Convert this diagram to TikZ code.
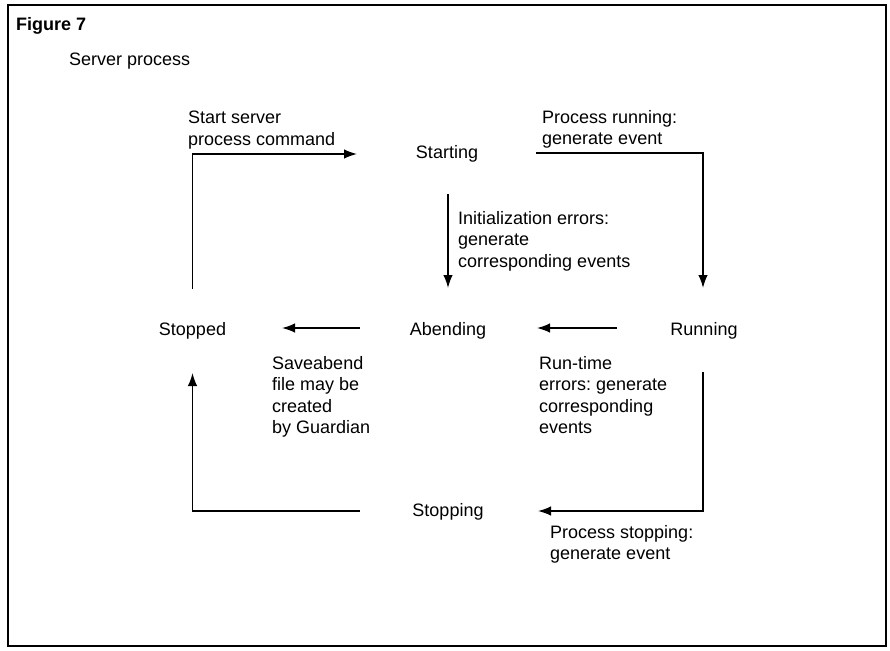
\documentclass[tikz,border=0pt]{standalone}
\usepackage{fontspec}
\setmainfont{Liberation Sans}
\usetikzlibrary{arrows.meta,calc}
\frenchspacing

\tikzset{
  lbl/.style={font=\fontsize{18}{21.5}\selectfont, inner sep=0pt},
  state/.style={lbl, anchor=base},
  note/.style={lbl, anchor=north west, align=left},
  link/.style={line width=1.5pt, -{Latex[length=13pt,width=9.5pt]}},
}

\begin{document}
\begin{tikzpicture}[x=1pt, y=-1pt]
  \useasboundingbox (0,0) rectangle (890,650);
  % outer frame
  \draw[line width=1.3pt] (8,5) rectangle (886,646);

  % heading
  \node[lbl, anchor=base west, font=\fontsize{18}{21.5}\selectfont\bfseries] (fig) at (16,31) {Figure 7};
  \node[lbl, anchor=base west] (sub) at (69,66) {Server process};

  % states
  \node[state] (starting) at (447,158) {Starting};
  \node[state] (running)  at (704,335) {Running};
  \node[state] (abending) at (448,335) {Abending};
  \node[state] (stopped)  at (192.5,335) {Stopped};
  \node[state] (stopping) at (448,516) {Stopping};

  % transitions
  \draw[link] ($(stopped.base)+(0,-46)$) |- ($(starting.base)+(-90,-4)$);
  \draw[link] ($(starting.base)+(89,-5)$) -| ($(running.base)+(-1,-47)$);
  \draw[link] ($(starting.base)+(1,36)$) -- ($(abending.base)+(0,-47)$);
  \draw[link] ($(running.base)+(-87,-7)$) -- ($(abending.base)+(89,-7)$);
  \draw[link] ($(abending.base)+(-88,-7)$) -- ($(stopped.base)+(89.5,-7)$);
  \draw[link] ($(running.base)+(-1,37)$) |- ($(stopping.base)+(90,-5)$);
  \draw[link] ($(stopping.base)+(-88,-5)$) -| ($(stopped.base)+(0,38)$);

  % transition notes
  \node[note] (n1) at (188,111) {Start server\\process command};
  \node[note] (n2) at (542,110) {Process running:\\generate event};
  \node[note] (n3) at (458,211) {Initialization errors:\\generate\\corresponding events};
  \node[note] (n4) at (272,356) {Saveabend\\file may be\\created\\by Guardian};
  \node[note] (n5) at (539,356) {Run-time\\errors: generate\\corresponding\\events};
  \node[note] (n6) at (550,525) {Process stopping:\\generate event};
\end{tikzpicture}
\end{document}
